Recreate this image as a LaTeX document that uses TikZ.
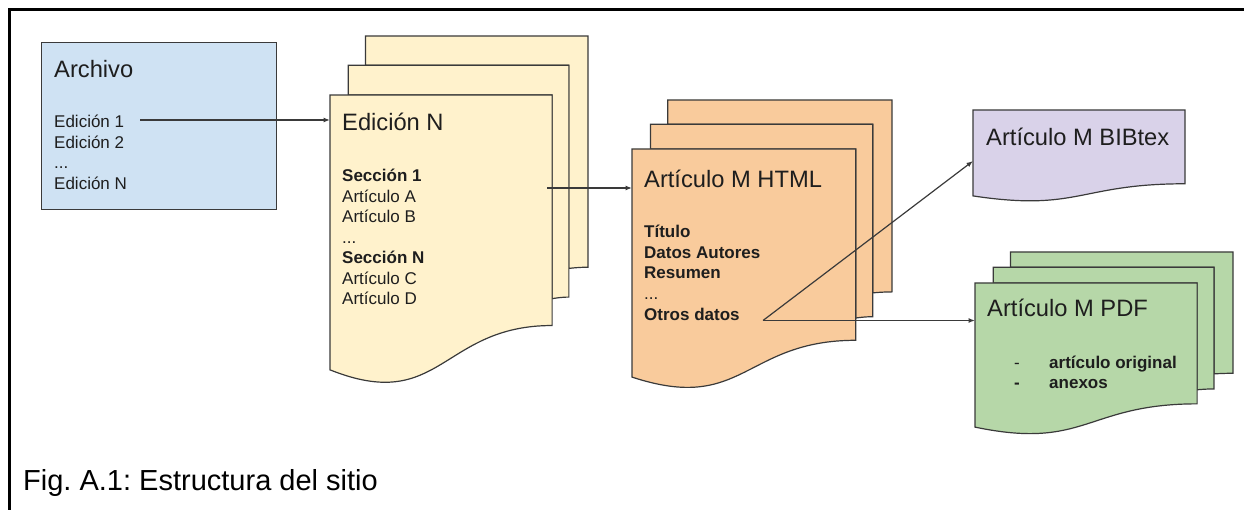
\documentclass[tikz,border=0pt]{standalone}
\usepackage{fontspec}
\setmainfont{Liberation Sans}
\usetikzlibrary{arrows.meta}
\frenchspacing
\definecolor{cblue}{HTML}{CFE2F3}
\definecolor{cyellow}{HTML}{FFF2CC}
\definecolor{corange}{HTML}{F9CB9C}
\definecolor{cpurple}{HTML}{D9D2E9}
\definecolor{cgreen}{HTML}{B6D7A8}
\definecolor{cline}{HTML}{3A3A3A}
\definecolor{ctext}{HTML}{1E1E1E}
\newcommand\mdocshape[5]{%
\filldraw[shp,fill=#5] ({#1+0.13759*#3},{#2+0.08403*#4}) -- ({#1+0.13759*#3},{#2}) -- ({#1+#3},{#2}) -- ({#1+#3},{#2+0.66630*#4}) .. controls ({#1+0.96296*#3},{#2+0.66630*#4}) and ({#1+0.92593*#3},{#2+0.66977*#4}) .. ({#1+0.92593*#3},{#2+0.66977*#4}) -- ({#1+0.92593*#3},{#2+0.08403*#4}) -- cycle;
\filldraw[shp,fill=#5] ({#1+0.07093*#3},{#2+0.17014*#4}) -- ({#1+0.07093*#3},{#2+0.08403*#4}) -- ({#1+0.92593*#3},{#2+0.08403*#4}) -- ({#1+0.92593*#3},{#2+0.75241*#4}) .. controls ({#1+0.89343*#3},{#2+0.75241*#4}) and ({#1+0.86088*#3},{#2+0.75704*#4}) .. ({#1+0.86088*#3},{#2+0.75704*#4}) -- ({#1+0.86088*#3},{#2+0.17014*#4}) -- cycle;
\filldraw[shp,fill=#5] (#1,{#2+0.17014*#4}) -- ({#1+0.86088*#3},{#2+0.17014*#4}) -- ({#1+0.86088*#3},{#2+0.83435*#4}) .. controls ({#1+0.43046*#3},{#2+0.83435*#4}) and ({#1+0.43046*#3},{#2+1.08991*#4}) .. (#1,{#2+0.96213*#4}) -- cycle;
}
\newcommand\sdocshape[5]{%
\filldraw[shp,fill=#5] (#1,#2) -- ({#1+#3},#2) -- ({#1+#3},{#2+0.80194*#4}) .. controls ({#1+0.5*#3},{#2+0.80194*#4}) and ({#1+0.5*#3},{#2+1.10750*#4}) .. (#1,{#2+0.93389*#4}) -- cycle;
}
\begin{document}
\begin{tikzpicture}[x=1pt,y=-1pt,
  shp/.style={draw=cline,line width=1.2pt,line join=miter},
  ttl/.style={anchor=base west,inner sep=0pt,text=ctext,font=\fontsize{23.7}{28}\selectfont},
  txt/.style={anchor=base west,inner sep=0pt,text=ctext,font=\fontsize{17}{20.4}\selectfont},
  btxt/.style={txt,font=\fontsize{17}{20.4}\selectfont\bfseries},
  captxt/.style={anchor=base west,inner sep=0pt,text=black,font=\fontsize{29}{34}\selectfont},
  conn/.style={draw=cline,line width=1.2pt,-{Latex[length=6.5pt,width=5pt]}}]
\useasboundingbox (0,0) rectangle (1244,510);
% frame
\draw[line width=2.5pt,black] (9.5,512) -- (9.5,9.5) -- (1246,9.5);
% Archivo
\node[shp,fill=cblue,anchor=north west,minimum width=235pt,minimum height=167pt,inner sep=0pt] (archivo) at (41,42) {};
\node[ttl] (archT) at (54,78) {Archivo};
\node[txt] (ed1) at (54,128) {Edición 1};
\node[txt] (ed2) at (54,148.5) {Edición 2};
\node[txt] (edd) at (54,169) {...};
\node[txt] (edn) at (54,189.5) {Edición N};
% Edicion N stack
\mdocshape{330}{36}{258}{347}{cyellow}
\node[ttl] (ediT) at (342,131) {Edición N};
\node[btxt] (s1) at (342,182) {Sección 1};
\node[txt] (aA) at (342,202.5) {Artículo A};
\node[txt] (aB) at (342,223) {Artículo B};
\node[txt] (ad) at (342,243.5) {...};
\node[btxt] (sN) at (342,264) {Sección N};
\node[txt] (aC) at (342,284.5) {Artículo C};
\node[txt] (aD) at (342,305) {Artículo D};
% HTML stack
\mdocshape{632}{100}{260}{288}{corange}
\node[ttl] (htmlT) at (644,188) {Artículo M HTML};
\node[btxt] (tit) at (644,238) {Título};
\node[btxt] (dat) at (644,258.5) {Datos Autores};
\node[btxt] (res) at (644,279) {Resumen};
\node[txt] (hd) at (644,299.5) {...};
\node[btxt] (otr) at (644,320) {Otros datos};
% BIBtex
\sdocshape{973}{110}{212}{92}{cpurple}
\node[ttl] (bibT) at (986,146) {Artículo M BIBtex};
% PDF stack
\mdocshape{975}{252}{258}{182}{cgreen}
\node[ttl] (pdfT) at (987,317) {Artículo M PDF};
\node[txt] (b1) at (1014,368) {-};
\node[btxt] (orig) at (1049,368) {artículo original};
\node[btxt] (b2) at (1014,388.5) {-};
\node[btxt] (anx) at (1049,388.5) {anexos};
% caption
\node[captxt] (caption) at (23,490) {Fig. A.1: Estructura del sitio};
% connector points
\coordinate (c1s) at (140,120);
\coordinate (c1e) at (330,120);
\coordinate (c2s) at (547,188);
\coordinate (c2e) at (632,188);
\coordinate (c3s) at (763,320.5);
\coordinate (c3e) at (973,161);
\coordinate (c4e) at (975,320.5);
\draw[conn] (c1s) -- (c1e);
\draw[conn] (c2s) -- (c2e);
\draw[conn] (c3s) -- (c3e);
\draw[conn] (c3s) -- (c4e);
\end{tikzpicture}
\end{document}
